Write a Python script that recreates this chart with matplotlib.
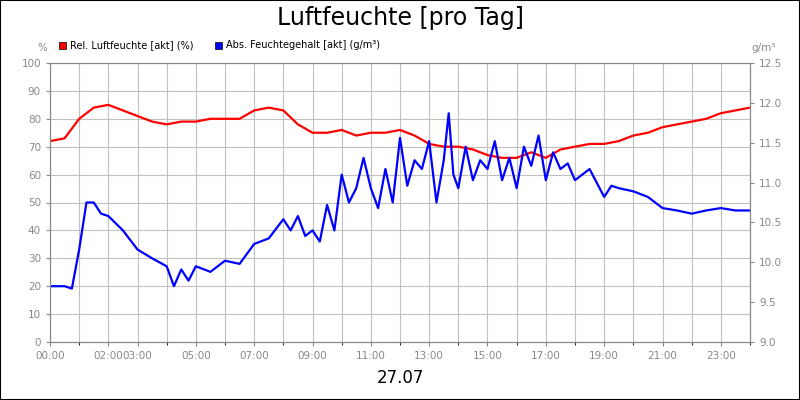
import matplotlib
matplotlib.use("Agg")
import matplotlib.pyplot as plt
from matplotlib.patches import Rectangle

red_t = [i*0.5 for i in range(49)]
red_v = [72,73,80,84,85,83,81,79,78,79,79,80,80,80,83,84,83,78,75,75,76,74,75,75,76,74,71,70,70,69,67,66,66,68,66,69,70,71,71,72,74,75,77,78,79,80,82,83,84]

blue_t = [0,0.5,0.75,1,1.25,1.5,1.75,2,2.5,3,3.5,4,4.25,4.5,4.75,5,5.5,6,6.5,7,7.5,8,8.25,8.5,8.75,9,9.25,9.5,9.75,10,10.25,10.5,10.75,11,11.25,11.5,11.75,12,12.25,12.5,12.75,13,13.25,13.5,13.67,13.83,14,14.25,14.5,14.75,15,15.25,15.5,15.75,16,16.25,16.5,16.75,17,17.25,17.5,17.75,18,18.5,19,19.25,19.5,20,20.5,21,21.5,22,22.5,23,23.5,24]
blue_v = [9.70,9.70,9.67,10.16,10.75,10.75,10.61,10.58,10.40,10.16,10.05,9.95,9.70,9.91,9.77,9.95,9.88,10.02,9.98,10.23,10.30,10.54,10.40,10.58,10.33,10.40,10.26,10.72,10.40,11.10,10.75,10.93,11.31,10.93,10.68,11.17,10.75,11.56,10.96,11.28,11.17,11.52,10.75,11.28,11.87,11.10,10.93,11.45,11.03,11.28,11.17,11.52,11.03,11.31,10.93,11.45,11.21,11.59,11.03,11.38,11.17,11.24,11.03,11.17,10.82,10.96,10.93,10.89,10.82,10.68,10.65,10.61,10.65,10.68,10.65,10.65]

xtick_pos = [0,2,3,5,7,9,11,13,15,17,19,21,23]
xtick_lab = ["00:00","02:00","03:00","05:00","07:00","09:00","11:00","13:00","15:00","17:00","19:00","21:00","23:00"]

fig = plt.figure(figsize=(8,4), dpi=100)
fig.patches.append(Rectangle((0,0),1,1,transform=fig.transFigure,fill=False,ec="black",lw=1.5))
ax = fig.add_axes([0.0625,0.145,0.875,0.6975])
ax.set_xlim(0,24); ax.set_ylim(0,100)
ax.set_xticks(range(25), minor=False)
ax.set_xticks(xtick_pos)
ax.set_xticklabels(xtick_lab)
ax.set_xticks(range(25), minor=True)
ax.set_yticks(range(0,101,10))
ax.grid(True, which="both", color="#c0c0c0", lw=0.8)
ax.tick_params(colors="#888888", labelsize=7.5, length=3)
for s in ax.spines.values(): s.set_color("#888888")
ax.plot(red_t, red_v, color="#ff0000", lw=1.6)
ax2 = ax.twinx()
ax2.set_ylim(9,12.5)
ax2.set_yticks([9+0.5*i for i in range(8)])
ax2.set_yticklabels([f"{9+0.5*i:.1f}" for i in range(8)])
ax2.tick_params(colors="#888888", labelsize=7.5, length=3)
for s in ax2.spines.values(): s.set_color("#888888")
ax2.plot(blue_t, blue_v, color="#0000ff", lw=1.6)

fig.text(0.5,0.955,"Luftfeuchte [pro Tag]",ha="center",va="center",fontsize=17)
fig.text(0.053,0.88,"%",ha="center",va="center",fontsize=7.5,color="#888888")
fig.text(0.955,0.88,"g/m³",ha="center",va="center",fontsize=7.5,color="#888888")
fig.text(0.5,0.055,"27.07",ha="center",va="center",fontsize=12)
fig.patches.append(Rectangle((0.074,0.878),0.009,0.018,transform=fig.transFigure,fc="#ff0000",ec="black",lw=0.5))
fig.text(0.087,0.887,"Rel. Luftfeuchte [akt] (%)",va="center",fontsize=7)
fig.patches.append(Rectangle((0.269,0.878),0.009,0.018,transform=fig.transFigure,fc="#0000ff",ec="black",lw=0.5))
fig.text(0.282,0.887,"Abs. Feuchtegehalt [akt] (g/m³)",va="center",fontsize=7)
fig.savefig("out.png", dpi=100)
